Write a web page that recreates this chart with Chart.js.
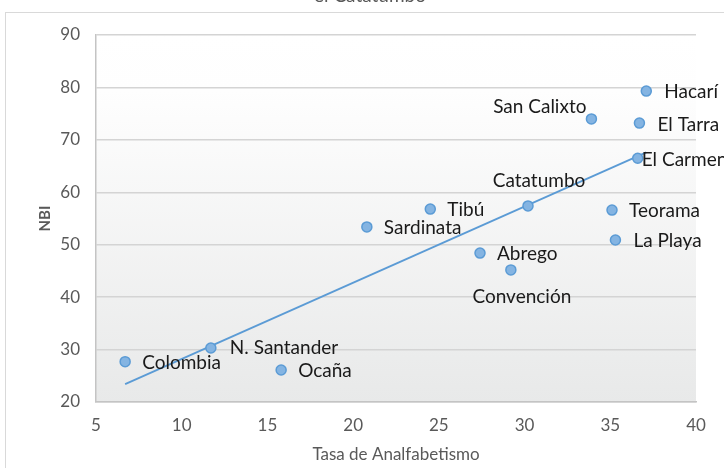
<!DOCTYPE html>
<html>
<head>
<meta charset="utf-8">
<script src="https://cdn.jsdelivr.net/npm/chart.js@4"></script>
<style>
  html, body { margin: 0; padding: 0; background: #fff; }
  #wrap { width: 724px; height: 468px; }
</style>
</head>
<body>
<div id="wrap"><canvas id="chart" width="724" height="468"></canvas></div>
<script>
// Municipios / regiones
const names = ['Colombia', 'N. Santander', 'Ocaña', 'Sardinata', 'Tibú', 'Abrego', 'Convención',
    'Catatumbo', 'San Calixto', 'Teorama', 'La Playa', 'El Carmen', 'El Tarra', 'Hacarí'];
// Tasa de analfabetismo (eje x)
const analfabetismo = [6.7, 11.7, 15.8, 20.8, 24.5, 27.4, 29.2, 30.2, 33.9, 35.1, 35.3, 36.6, 36.7, 37.1];
// NBI (eje y)
const nbi = [27.7, 30.3, 26.1, 53.4, 56.8, 48.4, 45.2, 57.4, 74.0, 56.6, 50.9, 66.5, 73.2, 79.3];
// Linea de tendencia (extremos)
const trendX = [6.7, 37.1];
const trendY = [23.4, 67.6];
// Ejes
const xTicks = [5, 10, 15, 20, 25, 30, 35, 40];
const yTicks = [20, 30, 40, 50, 60, 70, 80, 90];

const blue = '#5b9bd5';
const gray = '#595959';

// Label placement relative to each point
const labelPos = {
    'Colombia': [17, 1, 'left'],
    'N. Santander': [19, 0, 'left'],
    'Ocaña': [17, 1, 'left'],
    'Sardinata': [17, 1, 'left'],
    'Tibú': [17, 1, 'left'],
    'Abrego': [17, 1, 'left'],
    'Convención': [11, 27, 'center'],
    'Catatumbo': [11, -25, 'center'],
    'San Calixto': [-5, -12, 'right'],
    'Teorama': [17, 1, 'left'],
    'La Playa': [18, 1, 'left'],
    'El Carmen': [4, 2, 'left'],
    'El Tarra': [18, 2, 'left'],
    'Hacarí': [18, 1, 'left']
};

// Background, frame and clipped title
const backdrop = {
    id: 'backdrop',
    beforeDraw(chart) {
        const {ctx, chartArea: a} = chart;
        ctx.save();
        const g = ctx.createLinearGradient(0, a.top, 0, a.bottom);
        g.addColorStop(0, '#ffffff');
        g.addColorStop(0.15, '#fefefe');
        g.addColorStop(1, '#e8e9e9');
        ctx.fillStyle = g;
        ctx.fillRect(a.left, a.top, a.right - a.left, a.bottom - a.top);
        ctx.strokeStyle = '#d9d9d9';
        ctx.lineWidth = 1;
        ctx.strokeRect(5.5, 12.5, 900, 900);
        ctx.fillStyle = gray;
        ctx.font = '19px Lato';
        ctx.textAlign = 'center';
        ctx.textBaseline = 'alphabetic';
        ctx.fillText('el Catatumbo', 370, 2);
        ctx.restore();
    }
};

const pointLabels = {
    id: 'pointLabels',
    afterDatasetsDraw(chart) {
        const {ctx} = chart;
        const meta = chart.getDatasetMeta(0);
        ctx.save();
        ctx.font = '19px Lato';
        ctx.fillStyle = '#1a1a1a';
        ctx.textBaseline = 'middle';
        meta.data.forEach((pt, i) => {
            const p = labelPos[names[i]] || [17, 0, 'left'];
            ctx.textAlign = p[2];
            ctx.fillText(names[i], pt.x + p[0], pt.y + p[1]);
        });
        ctx.restore();
    }
};

function initializeChart() {
    const ctx = document.getElementById('chart').getContext('2d');
    new Chart(ctx, {
        type: 'scatter',
        data: {
            datasets: [{
                label: 'NBI',
                data: analfabetismo.map((x, i) => ({x: x, y: nbi[i]})),
                backgroundColor: '#84b4e2',
                borderColor: blue,
                borderWidth: 1.5,
                pointRadius: 5,
                order: 0
            }, {
                label: 'Tendencia',
                data: trendX.map((x, i) => ({x: x, y: trendY[i]})),
                showLine: true,
                borderColor: blue,
                borderWidth: 1.8,
                pointRadius: 0,
                order: 1
            }]
        },
        options: {
            responsive: false,
            animation: false,
            layout: { padding: { left: 0, top: 35, right: 28, bottom: 0 } },
            plugins: {
                legend: { display: false },
                tooltip: { enabled: false }
            },
            scales: {
                x: {
                    type: 'linear',
                    min: 5,
                    max: 40,
                    afterBuildTicks: (s) => { s.ticks = xTicks.map(v => ({value: v})); },
                    afterFit: (s) => { s.height = 66; },
                    grid: { display: false, drawTicks: false },
                    border: { display: true, color: '#c4c4c4', width: 1.5 },
                    ticks: { color: gray, font: { family: 'Lato', size: 17 }, padding: 13 },
                    title: {
                        display: true,
                        text: 'Tasa de Analfabetismo',
                        color: gray,
                        font: { family: 'Lato', size: 17 },
                        padding: { top: 0, bottom: 3 }
                    }
                },
                y: {
                    type: 'linear',
                    min: 20,
                    max: 90,
                    afterBuildTicks: (s) => { s.ticks = yTicks.map(v => ({value: v})); },
                    afterFit: (s) => { s.width = 96; },
                    grid: { color: '#d4d4d4', lineWidth: 1.5, drawTicks: false },
                    border: { display: true, color: '#c4c4c4', width: 1.5 },
                    ticks: { color: gray, font: { family: 'Lato', size: 17 }, padding: 16 },
                    title: {
                        display: true,
                        text: 'NBI',
                        color: gray,
                        font: { family: 'Lato', size: 15, weight: 'bold' },
                        padding: { top: 36, bottom: 0 }
                    }
                }
            }
        },
        plugins: [backdrop, pointLabels]
    });
}

document.addEventListener('DOMContentLoaded', initializeChart);
</script>
</body>
</html>
